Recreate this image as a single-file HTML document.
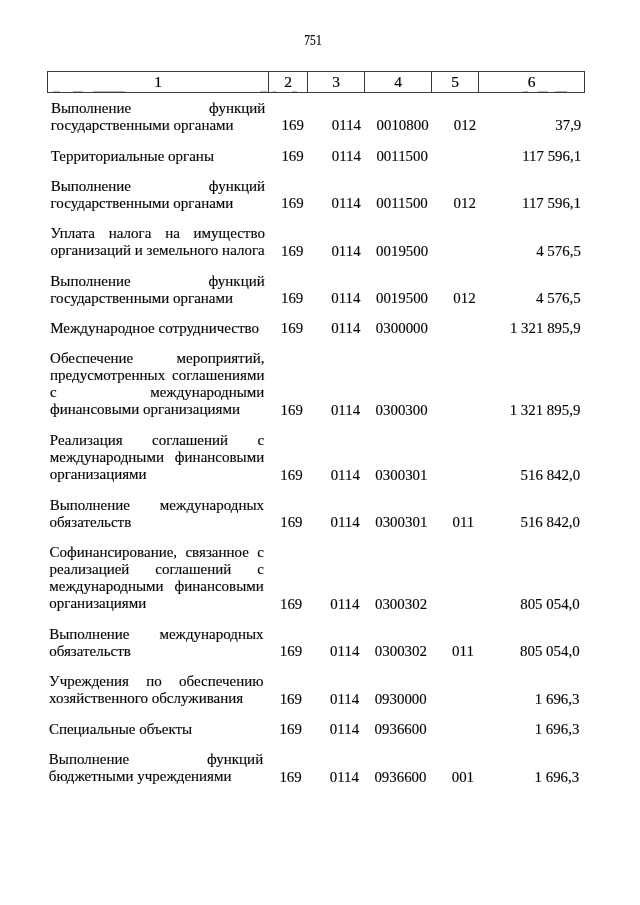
<!DOCTYPE html>
<html lang="ru"><head><meta charset="utf-8"><title>751</title>
<style>
html,body{margin:0;padding:0;background:#fff;}
body{width:640px;height:905px;position:relative;overflow:hidden;font-family:"Liberation Serif",serif;font-size:15px;line-height:17px;color:#000;-webkit-text-stroke:0.12px #000;}
.l{position:absolute;width:214.4px;white-space:nowrap;height:17px;}
.j{text-align:justify;text-align-last:justify;white-space:normal;}
.n{position:absolute;white-space:nowrap;height:17px;font-size:14.9px;}
.r{text-align:right;width:120px;}
.hd{position:absolute;top:71px;height:22px;border:1px solid #3a3a3a;box-sizing:border-box;text-align:center;line-height:20px;font-size:15.5px;-webkit-text-stroke:0.2px #000;}
.pg{position:absolute;top:31.8px;-webkit-text-stroke:0.2px #000;left:272.55px;width:80px;text-align:center;font-size:14px;transform:scaleX(0.825);transform-origin:center;}
</style></head><body>

<div class="pg">751</div>
<div class="hd" style="left:47px;width:222px">1</div>
<div class="hd" style="left:268px;width:40px">2</div>
<div class="hd" style="left:307px;width:58px">3</div>
<div class="hd" style="left:364px;width:68px">4</div>
<div class="hd" style="left:431px;width:48px">5</div>
<div class="hd" style="left:478px;width:107px">6</div>
<div style="position:absolute;top:91px;height:1px;left:53px;width:7px;background:#b4b4b4"></div>
<div style="position:absolute;top:91px;height:1px;left:73px;width:10px;background:#b4b4b4"></div>
<div style="position:absolute;top:91px;height:1px;left:93px;width:32px;background:#b4b4b4"></div>
<div style="position:absolute;top:91px;height:1px;left:260px;width:7px;background:#b4b4b4"></div>
<div style="position:absolute;top:91px;height:1px;left:273px;width:3px;background:#b4b4b4"></div>
<div style="position:absolute;top:91px;height:1px;left:292px;width:5px;background:#b4b4b4"></div>
<div style="position:absolute;top:91px;height:1px;left:523px;width:5px;background:#b4b4b4"></div>
<div style="position:absolute;top:91px;height:1px;left:538px;width:10px;background:#b4b4b4"></div>
<div style="position:absolute;top:91px;height:1px;left:555px;width:12px;background:#b4b4b4"></div>
<div class="l j" style="top:99.74px;left:50.90px">Выполнение функций</div>
<div class="l" style="top:116.74px;left:50.85px">государственными органами</div>
<div class="n" style="top:116.77px;left:281.50px">169</div>
<div class="n" style="top:116.77px;left:331.80px">0114</div>
<div class="n" style="top:116.77px;left:376.50px">0010800</div>
<div class="n" style="top:116.77px;left:453.80px">012</div>
<div class="n r" style="top:116.77px;left:461.30px">37,9</div>
<div class="l" style="top:147.74px;left:50.75px">Территориальные органы</div>
<div class="n" style="top:147.77px;left:281.40px">169</div>
<div class="n" style="top:147.77px;left:331.70px">0114</div>
<div class="n" style="top:147.77px;left:376.40px">0011500</div>
<div class="n r" style="top:147.77px;left:461.20px">117 596,1</div>
<div class="l j" style="top:177.74px;left:50.65px">Выполнение функций</div>
<div class="l" style="top:194.74px;left:50.60px">государственными органами</div>
<div class="n" style="top:194.77px;left:281.25px">169</div>
<div class="n" style="top:194.77px;left:331.55px">0114</div>
<div class="n" style="top:194.77px;left:376.25px">0011500</div>
<div class="n" style="top:194.77px;left:453.55px">012</div>
<div class="n r" style="top:194.77px;left:461.05px">117 596,1</div>
<div class="l j" style="top:224.74px;left:50.50px">Уплата налога на имущество</div>
<div class="l" style="top:241.74px;left:50.45px">организаций и земельного налога</div>
<div class="n" style="top:242.77px;left:281.09px">169</div>
<div class="n" style="top:242.77px;left:331.39px">0114</div>
<div class="n" style="top:242.77px;left:376.09px">0019500</div>
<div class="n r" style="top:242.77px;left:460.89px">4 576,5</div>
<div class="l j" style="top:272.74px;left:50.35px">Выполнение функций</div>
<div class="l" style="top:289.74px;left:50.29px">государственными органами</div>
<div class="n" style="top:289.77px;left:280.94px">169</div>
<div class="n" style="top:289.77px;left:331.24px">0114</div>
<div class="n" style="top:289.77px;left:375.94px">0019500</div>
<div class="n" style="top:289.77px;left:453.24px">012</div>
<div class="n r" style="top:289.77px;left:460.74px">4 576,5</div>
<div class="l" style="top:319.74px;left:50.20px">Международное сотрудничество</div>
<div class="n" style="top:319.77px;left:280.85px">169</div>
<div class="n" style="top:319.77px;left:331.15px">0114</div>
<div class="n" style="top:319.77px;left:375.85px">0300000</div>
<div class="n r" style="top:319.77px;left:460.65px">1 321 895,9</div>
<div class="l j" style="top:349.74px;left:50.10px">Обеспечение мероприятий,</div>
<div class="l j" style="top:366.74px;left:50.04px">предусмотренных соглашениями</div>
<div class="l j" style="top:383.74px;left:49.99px">с международными</div>
<div class="l" style="top:400.74px;left:49.94px">финансовыми организациями</div>
<div class="n" style="top:401.77px;left:280.58px">169</div>
<div class="n" style="top:401.77px;left:330.88px">0114</div>
<div class="n" style="top:401.77px;left:375.58px">0300300</div>
<div class="n r" style="top:401.77px;left:460.38px">1 321 895,9</div>
<div class="l j" style="top:431.74px;left:49.84px">Реализация соглашений с</div>
<div class="l j" style="top:448.74px;left:49.78px">международными финансовыми</div>
<div class="l" style="top:465.74px;left:49.73px">организациями</div>
<div class="n" style="top:466.77px;left:280.37px">169</div>
<div class="n" style="top:466.77px;left:330.67px">0114</div>
<div class="n" style="top:466.77px;left:375.37px">0300301</div>
<div class="n r" style="top:466.77px;left:460.17px">516 842,0</div>
<div class="l j" style="top:496.74px;left:49.63px">Выполнение международных</div>
<div class="l" style="top:513.74px;left:49.57px">обязательств</div>
<div class="n" style="top:513.77px;left:280.22px">169</div>
<div class="n" style="top:513.77px;left:330.52px">0114</div>
<div class="n" style="top:513.77px;left:375.22px">0300301</div>
<div class="n" style="top:513.77px;left:452.52px">011</div>
<div class="n r" style="top:513.77px;left:460.02px">516 842,0</div>
<div class="l j" style="top:543.74px;left:49.47px">Софинансирование, связанное с</div>
<div class="l j" style="top:560.74px;left:49.42px">реализацией соглашений с</div>
<div class="l j" style="top:577.74px;left:49.37px">международными финансовыми</div>
<div class="l" style="top:594.74px;left:49.31px">организациями</div>
<div class="n" style="top:595.77px;left:279.96px">169</div>
<div class="n" style="top:595.77px;left:330.26px">0114</div>
<div class="n" style="top:595.77px;left:374.96px">0300302</div>
<div class="n r" style="top:595.77px;left:459.76px">805 054,0</div>
<div class="l j" style="top:625.74px;left:49.21px">Выполнение международных</div>
<div class="l" style="top:642.74px;left:49.16px">обязательств</div>
<div class="n" style="top:642.77px;left:279.81px">169</div>
<div class="n" style="top:642.77px;left:330.11px">0114</div>
<div class="n" style="top:642.77px;left:374.81px">0300302</div>
<div class="n" style="top:642.77px;left:452.11px">011</div>
<div class="n r" style="top:642.77px;left:459.61px">805 054,0</div>
<div class="l j" style="top:672.74px;left:49.06px">Учреждения по обеспечению</div>
<div class="l" style="top:689.74px;left:49.00px">хозяйственного обслуживания</div>
<div class="n" style="top:690.77px;left:279.65px">169</div>
<div class="n" style="top:690.77px;left:329.95px">0114</div>
<div class="n" style="top:690.77px;left:374.65px">0930000</div>
<div class="n r" style="top:690.77px;left:459.45px">1 696,3</div>
<div class="l" style="top:720.74px;left:48.90px">Специальные объекты</div>
<div class="n" style="top:720.77px;left:279.55px">169</div>
<div class="n" style="top:720.77px;left:329.85px">0114</div>
<div class="n" style="top:720.77px;left:374.55px">0936600</div>
<div class="n r" style="top:720.77px;left:459.35px">1 696,3</div>
<div class="l j" style="top:750.74px;left:48.81px">Выполнение функций</div>
<div class="l" style="top:767.74px;left:48.75px">бюджетными учреждениями</div>
<div class="n" style="top:768.77px;left:279.40px">169</div>
<div class="n" style="top:768.77px;left:329.70px">0114</div>
<div class="n" style="top:768.77px;left:374.40px">0936600</div>
<div class="n" style="top:768.77px;left:451.70px">001</div>
<div class="n r" style="top:768.77px;left:459.20px">1 696,3</div>
</body></html>
